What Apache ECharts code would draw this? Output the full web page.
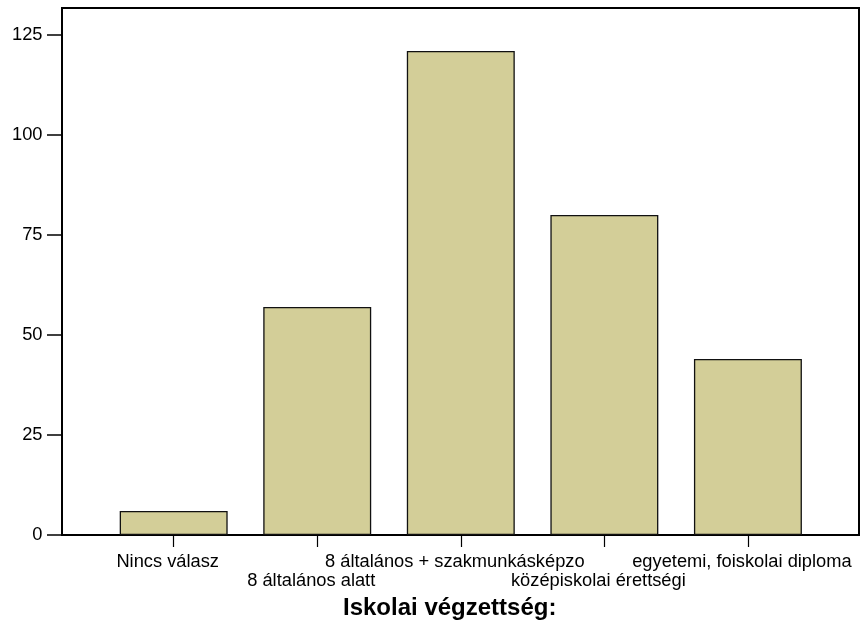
<!DOCTYPE html>
<html>
<head>
<meta charset="utf-8">
<script src="https://cdn.jsdelivr.net/npm/echarts@6/dist/echarts.min.js"></script>
<style>html,body{margin:0;padding:0;background:#fff;}#c{width:860px;height:628px;}</style>
</head>
<body>
<div id="c"></div>
<script>
const categories = ['Nincs válasz', '8 általános alatt', '8 általános + szakmunkásképzo', 'középiskolai érettségi', 'egyetemi, foiskolai diploma'];
const counts = [6, 57, 121, 80, 44];
const axisTitle = 'Iskolai végzettség:';
const yMin = 0, yMax = 131.75, yStep = 25;

const FONT = "'Liberation Sans', Arial, sans-serif";
const chart = echarts.init(document.getElementById('c'), null, {renderer: 'canvas'});
chart.setOption({
  animation: false,
  backgroundColor: '#fff',
  textStyle: {fontFamily: FONT},
  title: {
    text: axisTitle, left: 343, top: 596, padding: 0,
    textStyle: {fontFamily: FONT, fontSize: 24, fontWeight: 'bold', color: '#000'}
  },
  grid: [
    {left: 101.9, right: 40.3, top: 8, bottom: 93, containLabel: false, outerBoundsMode: 'none'},
    {left: 62, right: 1, top: 8, bottom: 93, containLabel: false, outerBoundsMode: 'none',
     show: true, borderColor: '#000', borderWidth: 2, backgroundColor: 'transparent'}
  ],
  xAxis: [
    {
      type: 'category', gridIndex: 0, data: categories,
      axisLine: {show: false},
      axisTick: {show: true, alignWithLabel: true, length: 12, lineStyle: {color: '#000', width: 1.2}},
      axisLabel: {
        interval: 0, margin: 17, fontSize: 18.3, color: '#000', fontFamily: FONT, lineHeight: 19.5,
        padding: [0, 12, 0, 0],
        formatter: (v, i) => (i % 2 ? '\n' + v : v)
      }
    },
    {type: 'value', gridIndex: 1, show: false, min: 0, max: 1}
  ],
  yAxis: [
    {type: 'value', gridIndex: 0, min: yMin, max: yMax, show: false},
    {
      type: 'value', gridIndex: 1, min: yMin, max: yMax, interval: yStep,
      axisLine: {show: true, lineStyle: {color: '#000', width: 2}},
      axisTick: {show: true, length: 15, lineStyle: {color: '#000', width: 1.5}},
      axisLabel: {fontSize: 18.3, color: '#000', margin: 19.5, fontFamily: FONT, showMaxLabel: false},
      splitLine: {show: false}
    }
  ],
  series: [{
    type: 'bar', xAxisIndex: 0, yAxisIndex: 0, data: counts,
    barCategoryGap: '24.8%',
    itemStyle: {color: '#d3ce98', borderColor: '#111', borderWidth: 1.3}
  }]
});
</script>
</body>
</html>
